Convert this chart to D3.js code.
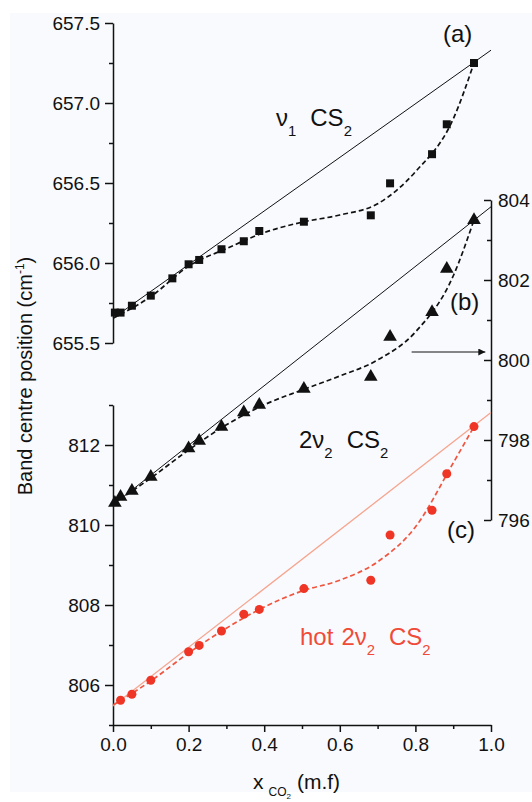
<!DOCTYPE html>
<html>
<head>
<meta charset="utf-8">
<script src="https://cdn.jsdelivr.net/npm/d3@7"></script>
<style>
  body { margin: 0; background: #fff; }
  svg { font-family: Arial, "Liberation Sans", sans-serif; }
  .axis path, .axis line { stroke: #111; stroke-width: 1.5; }
  .axis text { fill: #111; font-size: 19px; }
</style>
</head>
<body>
<svg width="532" height="802"></svg>
<script>
// (a) nu1 CS2, left upper axis
const xA = [0.005, 0.02, 0.05, 0.10, 0.157, 0.20, 0.228, 0.287, 0.346, 0.387, 0.505, 0.682, 0.733, 0.844, 0.883, 0.955];
const bandA = [655.69, 655.69, 655.733, 655.796, 655.904, 655.992, 656.019, 656.086, 656.136, 656.20, 656.258, 656.298, 656.498, 656.68, 656.867, 657.25];
// (b) 2nu2 CS2, right axis
const xB = [0.005, 0.02, 0.05, 0.10, 0.20, 0.228, 0.287, 0.346, 0.387, 0.505, 0.682, 0.733, 0.844, 0.883, 0.955];
const bandB = [796.43, 796.58, 796.73, 797.08, 797.79, 797.98, 798.33, 798.69, 798.88, 799.28, 799.58, 800.58, 801.2, 802.28, 803.5];
// (c) hot 2nu2 CS2, left lower axis
const xC = [0.02, 0.05, 0.10, 0.20, 0.228, 0.287, 0.346, 0.387, 0.505, 0.682, 0.733, 0.844, 0.883, 0.955];
const bandC = [805.62, 805.77, 806.12, 806.83, 806.99, 807.35, 807.77, 807.89, 808.41, 808.62, 809.75, 810.37, 811.28, 812.46];

// dashed fitted curves
const fitX = [0, 0.1, 0.2, 0.3, 0.4, 0.5, 0.6, 0.7, 0.8, 0.9, 0.955];
const fitA = [655.655, 655.79, 655.98, 656.09, 656.19, 656.255, 656.30, 656.37, 656.57, 656.90, 657.25];
const fitB = [796.40, 797.05, 797.75, 798.38, 798.88, 799.25, 799.6, 800.0, 800.7, 802.1, 803.5];
const fitC = [805.50, 806.10, 806.80, 807.42, 807.95, 808.35, 808.62, 809.08, 809.95, 811.55, 812.46];

// straight (ideal mixing) lines, values at x=0 and x=1
const lineX = [0, 1];
const lineA = [655.655, 657.33];
const lineB = [796.375, 803.83];
const lineC = [805.475, 812.81];

// ticks
const xTicks = [0, 0.2, 0.4, 0.6, 0.8, 1.0];
const xMinor = [0.1, 0.3, 0.5, 0.7, 0.9];
const yATicks = [655.5, 656.0, 656.5, 657.0, 657.5];
const yAMinor = [655.75, 656.25, 656.75, 657.25];
const yCTicks = [806, 808, 810, 812];
const yCMinor = [805, 807, 809, 811, 813];
const yBTicks = [796, 798, 800, 802, 804];
const yBMinor = [797, 799, 801, 803];

const svg = d3.select("svg");
svg.append("rect").attr("x", 10).attr("y", 13).attr("width", 522).attr("height", 779)
   .attr("fill", "#f9fafd");

const x = d3.scaleLinear().domain([0, 1]).range([113, 491]);
const yA = d3.scaleLinear().domain([655.5, 657.5]).range([343, 23]);
const yC = d3.scaleLinear().domain([805, 813]).range([725, 405]);
const yB = d3.scaleLinear().domain([796, 804]).range([520, 200]);

const black = "#111";
const red = "#ee3526";

// axes
svg.append("g").attr("class", "axis").attr("transform", "translate(0,725)")
   .call(d3.axisBottom(x).tickValues(xTicks).tickFormat(d3.format(".1f")).tickSize(7).tickSizeOuter(0).tickPadding(6));
svg.append("g").attr("class", "axis").attr("transform", "translate(0,725)")
   .call(d3.axisBottom(x).tickValues(xMinor).tickFormat("").tickSize(4).tickSizeOuter(0))
   .select(".domain").remove();

svg.append("g").attr("class", "axis").attr("transform", "translate(113,0)")
   .call(d3.axisLeft(yA).tickValues(yATicks).tickFormat(d3.format(".1f")).tickSize(8).tickSizeOuter(0).tickPadding(5));
svg.append("g").attr("class", "axis").attr("transform", "translate(113,0)")
   .call(d3.axisLeft(yA).tickValues(yAMinor).tickFormat("").tickSize(4).tickSizeOuter(0))
   .select(".domain").remove();

svg.append("g").attr("class", "axis").attr("transform", "translate(113,0)")
   .call(d3.axisLeft(yC).tickValues(yCTicks).tickFormat(d3.format("d")).tickSize(8).tickSizeOuter(0).tickPadding(5));
svg.append("g").attr("class", "axis").attr("transform", "translate(113,0)")
   .call(d3.axisLeft(yC).tickValues(yCMinor).tickFormat("").tickSize(4).tickSizeOuter(0))
   .select(".domain").remove();

svg.append("g").attr("class", "axis").attr("transform", "translate(491,0)")
   .call(d3.axisRight(yB).tickValues(yBTicks).tickFormat(d3.format("d")).tickSize(-7).tickSizeOuter(0).tickPadding(7));
svg.append("g").attr("class", "axis").attr("transform", "translate(491,0)")
   .call(d3.axisRight(yB).tickValues(yBMinor).tickFormat("").tickSize(-4).tickSizeOuter(0))
   .select(".domain").remove();

// lines
function drawLine(ys, yScale, color, width, dash, curve) {
  const xs = ys.length === 2 ? lineX : fitX;
  const pts = ys.map((v, i) => [xs[i], v]);
  svg.append("path").datum(pts)
     .attr("fill", "none").attr("stroke", color).attr("stroke-width", width)
     .attr("stroke-dasharray", dash)
     .attr("d", d3.line().x(d => x(d[0])).y(d => yScale(d[1])).curve(curve));
}
drawLine(lineA, yA, black, 1, null, d3.curveLinear);
drawLine(lineB, yB, black, 1, null, d3.curveLinear);
drawLine(lineC, yC, "#f6a58f", 1.3, null, d3.curveLinear);
drawLine(fitA, yA, black, 1.7, "5,3", d3.curveMonotoneX);
drawLine(fitB, yB, black, 1.7, "5,3", d3.curveMonotoneX);
drawLine(fitC, yC, "#f0553f", 1.7, "5,3", d3.curveMonotoneX);

// markers
svg.append("g").selectAll("path").data(xA.map((v, i) => [v, bandA[i]])).join("path")
   .attr("transform", d => `translate(${x(d[0])},${yA(d[1])})`)
   .attr("d", d3.symbol(d3.symbolSquare, 64)).attr("fill", black);
svg.append("g").selectAll("path").data(xB.map((v, i) => [v, bandB[i]])).join("path")
   .attr("transform", d => `translate(${x(d[0])},${yB(d[1])})`)
   .attr("d", d3.symbol(d3.symbolTriangle, 80)).attr("fill", black);
svg.append("g").selectAll("circle").data(xC.map((v, i) => [v, bandC[i]])).join("circle")
   .attr("cx", d => x(d[0])).attr("cy", d => yC(d[1])).attr("r", 4.5).attr("fill", red);

// arrow pointing to the right axis
svg.append("defs").append("marker").attr("id", "head")
   .attr("viewBox", "0 0 10 10").attr("refX", 10).attr("refY", 5)
   .attr("markerWidth", 9).attr("markerHeight", 7).attr("markerUnits", "userSpaceOnUse")
   .attr("orient", "auto")
   .append("path").attr("d", "M0,0L10,5L0,10z").attr("fill", black);
svg.append("line").attr("x1", x(0.79)).attr("x2", x(0.985))
   .attr("y1", yB(800.2)).attr("y2", yB(800.2))
   .attr("stroke", black).attr("stroke-width", 1).attr("marker-end", "url(#head)");

// annotation text
function label(tx, ty, parts, color, size) {
  const t = svg.append("text").attr("x", tx).attr("y", ty).attr("fill", color).attr("font-size", size);
  parts.forEach(p => {
    const s = t.append("tspan").text(p[0]);
    if (p[1] === "sub") s.attr("font-size", size * 0.62).attr("dy", size * 0.4);
    if (p[1] === "up") s.attr("dy", -size * 0.4);
    if (p[2]) s.attr("dx", p[2]);
  });
  return t;
}
label(443, 42, [["(a)"]], black, 24);
label(450, 310, [["(b)"]], black, 24);
label(447, 538, [["(c)"]], black, 24);
label(276, 126, [["ν"], ["1", "sub"], ["CS", "up", 14], ["2", "sub"]], black, 24);
label(299, 448, [["2ν"], ["2", "sub"], ["CS", "up", 14], ["2", "sub"]], black, 24);
label(300, 645, [["hot"], ["2ν", null, 8], ["2", "sub"], ["CS", "up", 14], ["2", "sub"]], "#f04a38", 24);

// axis titles
const xt = svg.append("text").attr("x", 253).attr("y", 789).attr("font-size", 21).attr("fill", black);
xt.append("tspan").text("x");
xt.append("tspan").text("CO").attr("font-size", 12).attr("dy", 7).attr("dx", 5);
xt.append("tspan").text("2").attr("font-size", 8).attr("dy", 3);
xt.append("tspan").text("(m.f)").attr("dy", -10).attr("dx", 6);

const yt = svg.append("text").attr("transform", "translate(32,376) rotate(-90)")
   .attr("text-anchor", "middle").attr("font-size", 20).attr("fill", black);
yt.append("tspan").text("Band centre position (cm");
yt.append("tspan").text("-1").attr("font-size", 12).attr("dy", -8);
yt.append("tspan").text(")").attr("font-size", 20).attr("dy", 8);
</script>
</body>
</html>
